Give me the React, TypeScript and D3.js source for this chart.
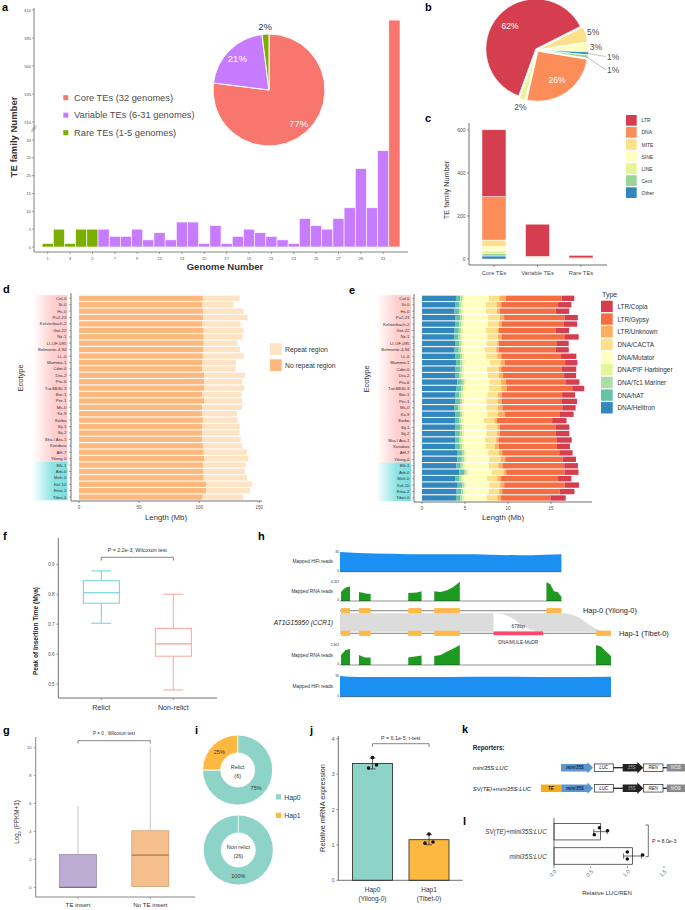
import React from 'react'
import * as d3 from 'd3'

const FONT = '"Liberation Sans", Arial, Helvetica, sans-serif'
const AX = '#4d4d4d'

// ---------- a: TE families by number of genomes ----------
const genomeCounts = [1, 2, 3, 4, 5, 6, 7, 8, 9, 10, 11, 12, 13, 14, 15, 16, 17, 18, 19, 20, 21, 22, 23, 24, 25, 26, 27, 28, 29, 30, 31, 32]
const familyCounts = [1, 5, 1, 5, 5, 5, 3, 3, 5, 2, 4, 2, 7, 7, 1, 6, 1, 3, 5, 4, 3, 2, 1, 8, 6, 5, 8, 11, 22, 11, 27, 601]
const genomeTicks = [1, 3, 5, 7, 9, 11, 13, 15, 17, 19, 21, 23, 25, 27, 29, 31]
const lowTicks = [0, 5, 10, 15, 20, 25, 30]
const highTicks = [510, 535, 560, 585, 610]
const teClassNames = ['Core TEs (32 genomes)', 'Variable TEs (6-31 genomes)', 'Rare TEs (1-5 genomes)']
const teClassPercent = [77, 21, 2]
const teClassColors = ['#F8766D', '#C77CFF', '#7CAE00']

// ---------- b: superfamily share ----------
const pieSuperfamilies = ['LTR', 'MITE', 'SINE', 'Other', 'Cent', 'DNA', 'LINE']
const pieSuperfamilyPercent = [62, 5, 3, 1, 1, 26, 2]

// ---------- c: superfamily per tier ----------
const tiers = ['Core TEs', 'Variable TEs', 'Rare TEs']
const superfamilies = ['LTR', 'DNA', 'MITE', 'SINE', 'LINE', 'Cent', 'Other']
const superfamilyColors = ['#D53E4F', '#FC8D59', '#FEE08B', '#FFFFBF', '#E6F598', '#99D594', '#3288BD']
const ltrCounts = [311, 150, 12]
const dnaCounts = [202, 3, 2]
const miteCounts = [31, 2, 1]
const sineCounts = [18, 2, 1]
const lineCounts = [13, 3, 1]
const centCounts = [12, 1, 0]
const otherCounts = [14, 1, 0]
const tierTicks = [0, 200, 400, 600]

// ---------- d / e: genomes ----------
const ecotypes = ['Col-0', 'St-0', 'Hs-0', 'Pu2-23', 'Kelsterbach-2', 'Got-22', 'Nz-1', 'LI-OF-095', 'Belmonte-4-94', 'LL-0', 'Mammo-1', 'Cdm-0', 'Dra-2', 'Pra-6', 'TueSB30-3', 'Bor-1', 'Per-1', 'Ms-0', 'Kz-9', 'Sorbo', 'Sij-1', 'Sij-2', 'Sha / Ara-1', 'Kondara', 'AH-7', 'Yilong-0', 'Elk-1', 'Arb-0', 'Meh-0', 'Kel-10', 'Etna-2', 'Tibet-0']
const nonRelictCount = 26
const noRepeatMb = [103.1, 102.3, 103.1, 103.4, 102.3, 103.7, 103.7, 103.7, 103.7, 103.1, 102.3, 102.3, 104.2, 104.2, 104.0, 102.6, 104.0, 102.3, 102.3, 103.1, 102.3, 102.3, 102.6, 103.1, 103.7, 104.2, 103.1, 103.4, 103.7, 105.9, 105.9, 102.9]
const genomeMb = [133.6, 128.6, 137.0, 140.3, 134.5, 137.0, 135.8, 132.0, 133.9, 137.0, 130.6, 130.3, 138.1, 135.8, 137.5, 135.0, 135.6, 135.6, 131.4, 132.0, 133.6, 133.6, 134.5, 135.6, 139.7, 141.1, 138.6, 138.1, 139.7, 144.2, 142.2, 136.4]
const lengthTicks = [0, 50, 100, 150]

const teTypes = ['LTR/Copia', 'LTR/Gypsy', 'LTR/Unknown', 'DNA/CACTA', 'DNA/Mutator', 'DNA/PIF Harbinger', 'DNA/Tc1 Mariner', 'DNA/hAT', 'DNA/Helitron']
const teTypeColors = ['#D53E4F', '#F46D43', '#FDAE61', '#FEE08B', '#FFFFBF', '#E6F598', '#ABDDA4', '#66C2A5', '#3288BD']
const helitronMb = [3.95, 3.84, 3.80, 3.91, 3.84, 3.80, 3.72, 3.84, 3.80, 3.91, 3.95, 3.91, 3.84, 4.11, 4.03, 3.84, 3.91, 3.72, 3.91, 3.84, 3.91, 3.90, 3.84, 3.91, 4.15, 4.11, 3.99, 4.34, 3.84, 4.15, 4.03, 3.95]
const hatMb = [0.50, 0.48, 0.50, 0.52, 0.50, 0.48, 0.50, 0.50, 0.48, 0.50, 0.52, 0.50, 0.50, 0.52, 0.52, 0.50, 0.50, 0.50, 0.50, 0.48, 0.50, 0.50, 0.48, 0.50, 0.52, 0.52, 0.50, 0.55, 0.50, 0.52, 0.52, 0.50]
const tc1Mb = [0.26, 0.25, 0.26, 0.26, 0.26, 0.25, 0.26, 0.26, 0.25, 0.26, 0.26, 0.26, 0.26, 0.27, 0.26, 0.26, 0.26, 0.25, 0.26, 0.25, 0.26, 0.26, 0.25, 0.26, 0.26, 0.26, 0.26, 0.27, 0.26, 0.26, 0.26, 0.26]
const pifMb = [0.24, 0.24, 0.24, 0.24, 0.25, 0.24, 0.24, 0.24, 0.24, 0.24, 0.24, 0.24, 0.24, 0.25, 0.24, 0.24, 0.24, 0.24, 0.24, 0.24, 0.24, 0.24, 0.24, 0.24, 0.24, 0.25, 0.24, 0.25, 0.24, 0.24, 0.24, 0.24]
const mutatorMb = [2.84, 2.60, 2.64, 2.76, 2.80, 2.64, 2.88, 2.68, 2.53, 2.57, 2.95, 2.64, 2.80, 2.72, 2.76, 2.76, 2.60, 2.80, 2.68, 2.37, 2.57, 2.58, 2.53, 2.49, 2.53, 2.68, 2.76, 2.68, 2.72, 2.64, 2.72, 2.57]
const cactaMb = [1.20, 1.28, 1.28, 1.36, 1.28, 1.36, 1.24, 1.24, 1.32, 1.28, 1.20, 1.36, 1.32, 1.32, 1.40, 1.24, 1.28, 1.32, 1.24, 1.24, 1.28, 1.28, 1.28, 1.09, 1.24, 1.32, 1.12, 1.43, 1.20, 1.28, 1.20, 1.24]
const ltrUnknownMb = [0.74, 0.54, 0.35, 0.50, 0.31, 0.19, 0.43, 0.16, 0.27, 0.47, 0.50, 0.31, 0.47, 0.54, 0.66, 0.43, 0.47, 0.54, 0.78, 0.31, 0.31, 0.31, 0.27, 0.43, 0.39, 0.54, 0.50, 0.27, 0.43, 0.47, 0.35, 0.43]
const gypsyMb = [6.51, 6.59, 6.47, 7.02, 7.25, 6.55, 7.36, 6.78, 6.67, 6.94, 7.02, 7.05, 7.09, 7.02, 7.60, 7.02, 7.02, 6.94, 6.43, 6.40, 6.47, 6.47, 6.78, 6.78, 6.63, 6.67, 7.17, 6.78, 6.63, 7.02, 6.67, 5.74]
const copiaMb = [1.47, 1.55, 1.59, 1.55, 1.55, 1.59, 1.59, 1.36, 1.51, 1.78, 1.43, 1.67, 1.40, 1.55, 1.40, 1.51, 1.74, 1.55, 1.59, 1.67, 1.59, 1.59, 1.74, 1.51, 1.55, 1.55, 1.59, 1.63, 1.55, 1.67, 1.74, 1.78]
const typeTicks = [0, 5, 10, 15]

// ---------- f: insertion time ----------
const insertionGroups = ['Relict', 'Non-relict']
const insertionMin = [0.703, 0.48]
const insertionQ1 = [0.77, 0.593]
const insertionMedian = [0.805, 0.634]
const insertionQ3 = [0.845, 0.686]
const insertionMax = [0.878, 0.8]
const insertionTicks = [0.5, 0.6, 0.7, 0.8, 0.9]

// ---------- g: expression ----------
const exprGroups = ['TE insert', 'No TE insert']
const exprQ1 = [0, 0.05]
const exprMedian = [0, 2.3]
const exprQ3 = [2.35, 4.05]
const exprMax = [5.8, 10.1]
const exprTicks = [0, 2, 4, 6, 8, 10]

// ---------- h: CCR1 locus ----------
const hap0Length = 3026
const hap1Length = 3704
const hap0Exons = [[14, 137], [259, 419], [933, 1115], [1288, 1638], [2821, 3026]]
const hap1Exons = [[14, 137], [259, 419], [933, 1115], [1288, 1638], [3499, 3704]]
const teInsertBp = [2098, 2776]
const hifiHap0Pos = [0, 250, 705, 1160, 1615, 2070, 2434, 2798, 3026]
const hifiHap0Depth = [30, 28.5, 27.5, 26.5, 26.5, 26, 25, 26, 26.5]
const hifiHap1Pos = [0, 250, 700, 1200, 1800, 2400, 3000, 3704]
const hifiHap1Depth = [30, 28.5, 28.5, 28.5, 29, 29, 28.5, 29]
const rnaHap0Max = 4267
const rnaHap0 = [[2000, 2700, 3070, 3200], [2000, 1830, 1620, 1620], [1790, 1830, 1900, 2130], [2130, 2000, 2350, 3070, 4267], [4140, 3750, 2130, 2000, 940]]
const rnaHap1Max = 2661
const rnaHap1 = [[1330, 2000, 2130], [1330, 985, 985], [985, 1120, 1250], [1200, 1330, 1780, 2200, 2661], [2661, 2450, 1780, 1200]]

// ---------- i: haplotype share ----------
const hapNames = ['Hap0', 'Hap1']
const hapColors = ['#8DD3C7', '#FDB93F']
const relictHapPercent = [75, 25]
const nonRelictHapPercent = [100, 0]

// ---------- j: qPCR ----------
const hapEcotypes = ['(Yilong-0)', '(Tibet-0)']
const expressionReps = [[3.47, 3.17, 3.26], [1.31, 1.05, 1.08]]
const expressionTicks = [0, 1, 2, 3, 4]

// ---------- l: LUC/REN ----------
const reporterNames = ['SV(TE)+mini35S:LUC', 'mini35S:LUC']
const lucRenReps = [[0.55, 0.62, 0.73], [1.0, 1.0, 1.21]]
const lucTicks = [0, 0.5, 1, 1.5]

const Letter = ({ x, y, t }: { x: number; y: number; t: string }) => (
  <text x={x} y={y} fontSize={11} fontWeight="bold" fill="#000">{t}</text>
)

const VText = ({ x, y, children, ...rest }: any) => (
  <text transform={`translate(${x},${y}) rotate(-90)`} textAnchor="middle" {...rest}>{children}</text>
)

function PanelA() {
  const x = d3.scaleBand<number>().domain(genomeCounts).range([42.1, 400])
  const yLow = d3.scaleLinear().domain([0, 30]).range([247, 140])
  const yHigh = d3.scaleLinear().domain([510, 610]).range([122, 10])
  const y = (v: number) => (v <= 30 ? yLow(v) : yHigh(v))
  const classOf = (g: number) => (g === 32 ? 0 : g >= 6 ? 1 : 2)
  const cx = 269, cy = 90, r = 56
  const slices = d3.pie<number>().sort(null)(teClassPercent)
  const arc = d3.arc<d3.PieArcDatum<number>>().innerRadius(0).outerRadius(r)
  const inLab = d3.arc<d3.PieArcDatum<number>>().innerRadius(r * 0.8).outerRadius(r * 0.8)
  const outLab = d3.arc<d3.PieArcDatum<number>>().innerRadius(r * 1.13).outerRadius(r * 1.13)
  return (
    <g>
      <Letter x={2} y={11} t="a" />
      {genomeCounts.map((g, i) => (
        <rect key={g} x={x(g)} y={y(familyCounts[i])} width={x.bandwidth()} height={yLow(0) - y(familyCounts[i])}
          fill={teClassColors[classOf(g)]} stroke="#fff" strokeWidth={0.6} />
      ))}
      <line x1={34} x2={34} y1={8} y2={252} stroke={AX} strokeWidth={0.7} />
      <line x1={34} x2={408} y1={252} y2={252} stroke={AX} strokeWidth={0.7} />
      <path d="M31.5,130 L36,125.5 M31.5,132 L36,127.5" stroke={AX} strokeWidth={0.6} />
      {lowTicks.map(t => (
        <g key={'l' + t}>
          <line x1={32} x2={34} y1={yLow(t)} y2={yLow(t)} stroke={AX} strokeWidth={0.5} />
          <text x={31} y={yLow(t)} fontSize={4} fill={AX} textAnchor="end" dominantBaseline="central">{t}</text>
        </g>
      ))}
      {highTicks.map(t => (
        <g key={'h' + t}>
          <line x1={32} x2={34} y1={yHigh(t)} y2={yHigh(t)} stroke={AX} strokeWidth={0.5} />
          <text x={31} y={yHigh(t)} fontSize={4} fill={AX} textAnchor="end" dominantBaseline="central">{t}</text>
        </g>
      ))}
      {genomeTicks.map(t => (
        <g key={'x' + t}>
          <line x1={x(t)! + x.bandwidth() / 2} x2={x(t)! + x.bandwidth() / 2} y1={252} y2={254} stroke={AX} strokeWidth={0.5} />
          <text x={x(t)! + x.bandwidth() / 2} y={259.5} fontSize={4} fill={AX} textAnchor="middle">{t}</text>
        </g>
      ))}
      <text x={225} y={270} fontSize={9.5} fontWeight="bold" fill="#333" textAnchor="middle">Genome Number</text>
      <VText x={17} y={137} fontSize={9.5} fontWeight="bold" fill="#333">TE family Number</VText>
      {teClassNames.map((n, i) => (
        <g key={n}>
          <rect x={63.3} y={95.2 + i * 17.5} width={5} height={5} fill={teClassColors[i]} />
          <text x={74} y={97.7 + i * 17.5} fontSize={9.3} fill={AX} dominantBaseline="central">{n}</text>
        </g>
      ))}
      <g transform={`translate(${cx},${cy})`}>
        {slices.map((s, i) => (
          <path key={i} d={arc(s)!} fill={teClassColors[i]} stroke="#fff" strokeWidth={1} />
        ))}
        {slices.map((s, i) => {
          const p = i < 2 ? inLab.centroid(s) : outLab.centroid(s)
          return (
            <text key={'t' + i} x={p[0]} y={p[1]} fontSize={9.5} fill={i < 2 ? '#fff' : '#333'} textAnchor="middle" dominantBaseline="central">
              {teClassPercent[i]}%
            </text>
          )
        })}
      </g>
    </g>
  )
}

function PanelB() {
  const cx = 537, cy = 50, r = 50
  const deg = Math.PI / 180
  const slices = d3.pie<number>().sort(null).startAngle(200 * deg).endAngle(560 * deg)(pieSuperfamilyPercent)
  const arc = d3.arc<d3.PieArcDatum<number>>().innerRadius(0).outerRadius(r)
  const inLab = d3.arc<d3.PieArcDatum<number>>().innerRadius(r * 0.72).outerRadius(r * 0.72)
  const outLab = d3.arc<d3.PieArcDatum<number>>().innerRadius(r * 1.18).outerRadius(r * 1.18)
  const edge = d3.arc<d3.PieArcDatum<number>>().innerRadius(r * 0.98).outerRadius(r * 0.98)
  const colorOf = (n: string) => superfamilyColors[superfamilies.indexOf(n)]
  let leader = 0
  return (
    <g>
      <Letter x={425} y={11} t="b" />
      <g transform={`translate(${cx},${cy})`}>
        {slices.map((s, i) => {
          const mid = (s.startAngle + s.endAngle) / 2
          const off = 1.6
          return (
            <path key={i} d={arc(s)!} transform={`translate(${Math.sin(mid) * off},${-Math.cos(mid) * off})`}
              fill={colorOf(pieSuperfamilies[i])} stroke="#fff" strokeWidth={0.8} />
          )
        })}
        {slices.map((s, i) => {
          const v = pieSuperfamilyPercent[i]
          if (v >= 20) {
            const p = inLab.centroid(s)
            return <text key={'t' + i} x={p[0]} y={p[1]} fontSize={8.5} fill="#fff" textAnchor="middle" dominantBaseline="central">{v}%</text>
          }
          if (v >= 2) {
            const p = outLab.centroid(s)
            return <text key={'t' + i} x={p[0]} y={p[1]} fontSize={8.5} fill={AX} textAnchor="middle" dominantBaseline="central">{v}%</text>
          }
          const p = edge.centroid(s)
          const ly = 6.5 + leader * 13.3
          leader += 1
          return (
            <g key={'t' + i}>
              <polyline points={`${p[0]},${p[1]} ${r + 19},${ly}`} fill="none" stroke="#999" strokeWidth={0.6} />
              <text x={r + 20} y={ly} fontSize={8.5} fill={AX} dominantBaseline="central">{v}%</text>
            </g>
          )
        })}
      </g>
    </g>
  )
}

function PanelC() {
  const x = d3.scalePoint<string>().domain(tiers).range([494, 581])
  const y = d3.scaleLinear().domain([0, 600]).range([259, 130])
  const perType: Record<string, number[]> = {
    LTR: ltrCounts, DNA: dnaCounts, MITE: miteCounts, SINE: sineCounts, LINE: lineCounts, Cent: centCounts, Other: otherCounts,
  }
  const rows = tiers.map((t, i) => {
    const o: any = { tier: t }
    superfamilies.forEach(s => { o[s] = perType[s][i] })
    return o
  })
  const keys = [...superfamilies].reverse()
  const series = d3.stack<any>().keys(keys)(rows)
  const bw = 24
  return (
    <g>
      <Letter x={425} y={122} t="c" />
      {series.map(sr => (
        <g key={sr.key} fill={superfamilyColors[superfamilies.indexOf(sr.key)]}>
          {sr.map((d, i) => (
            d[1] > d[0] ? (
              <rect key={i} x={x(tiers[i])! - bw / 2} y={y(d[1])} width={bw} height={y(d[0]) - y(d[1])} stroke="#fff" strokeWidth={0.5} />
            ) : null
          ))}
        </g>
      ))}
      <line x1={469} x2={469} y1={123} y2={265} stroke="#333" strokeWidth={0.7} />
      <line x1={469} x2={607} y1={265} y2={265} stroke="#333" strokeWidth={0.7} />
      {tierTicks.map(t => (
        <g key={t}>
          <line x1={467} x2={469} y1={y(t)} y2={y(t)} stroke="#333" strokeWidth={0.5} />
          <text x={465.5} y={y(t)} fontSize={5} fill={AX} textAnchor="end" dominantBaseline="central">{t}</text>
        </g>
      ))}
      {tiers.map(t => (
        <g key={t}>
          <line x1={x(t)} x2={x(t)} y1={265} y2={267} stroke="#333" strokeWidth={0.5} />
          <text x={x(t)} y={275} fontSize={5.8} fill={AX} textAnchor="middle">{t}</text>
        </g>
      ))}
      <VText x={449} y={190} fontSize={7.3} fill="#333">TE family Number</VText>
      {superfamilies.map((s, i) => (
        <g key={s}>
          <rect x={626} y={115 + i * 12.05} width={10.7} height={10.7} fill={superfamilyColors[i]} />
          <text x={641.5} y={120.4 + i * 12.05} fontSize={5} fill="#333" dominantBaseline="central">{s}</text>
        </g>
      ))}
    </g>
  )
}

function EcotypeBands({ yb, x0, x1 }: { yb: d3.ScaleBand<string>; x0: number; x1: number }) {
  const gap = yb.step() - yb.bandwidth()
  const top = yb(ecotypes[0])! - gap / 2
  const mid = yb(ecotypes[nonRelictCount - 1])! + yb.bandwidth() + gap / 2
  const bot = yb(ecotypes[ecotypes.length - 1])! + yb.bandwidth() + gap / 2
  return (
    <g>
      <rect x={x0} y={top} width={x1 - x0} height={mid - top} fill="url(#pinkFade)" />
      <rect x={x0} y={mid} width={x1 - x0} height={bot - mid} fill="url(#cyanFade)" />
    </g>
  )
}

function PanelD() {
  const yb = d3.scaleBand<string>().domain(ecotypes).range([295.1, 500.3]).paddingInner(0.17).paddingOuter(0.085)
  const x = d3.scaleLinear().domain([0, 150]).range([79, 259.3])
  return (
    <g>
      <Letter x={3} y={293} t="d" />
      <EcotypeBands yb={yb} x0={32} x1={67.5} />
      {ecotypes.map((e, i) => (
        <g key={e}>
          <rect x={x(0)} y={yb(e)} width={x(noRepeatMb[i]) - x(0)} height={yb.bandwidth()} fill="#FDB97D" />
          <rect x={x(noRepeatMb[i])} y={yb(e)} width={x(genomeMb[i]) - x(noRepeatMb[i])} height={yb.bandwidth()} fill="#FEE3C4" />
          <line x1={69} x2={71} y1={yb(e)! + yb.bandwidth() / 2} y2={yb(e)! + yb.bandwidth() / 2} stroke="#333" strokeWidth={0.4} />
          <text x={66.3} y={yb(e)! + yb.bandwidth() / 2} fontSize={4.3} fill="#333" textAnchor="end" dominantBaseline="central">{e}</text>
        </g>
      ))}
      <line x1={71} x2={71} y1={293} y2={501} stroke="#333" strokeWidth={0.7} />
      <line x1={71} x2={262} y1={501} y2={501} stroke="#333" strokeWidth={0.7} />
      {lengthTicks.map(t => (
        <g key={t}>
          <line x1={x(t)} x2={x(t)} y1={501} y2={503} stroke="#333" strokeWidth={0.5} />
          <text x={x(t)} y={509} fontSize={4.5} fill={AX} textAnchor="middle">{t}</text>
        </g>
      ))}
      <text x={166} y={520} fontSize={7.8} fill="#333" textAnchor="middle">Length (Mb)</text>
      <VText x={23} y={378} fontSize={7.5} fill="#333">Ecotype</VText>
      {['Repeat region', 'No repeat region'].map((n, i) => (
        <g key={n}>
          <rect x={270} y={343.3 + i * 16} width={11.7} height={11.7} fill={i === 0 ? '#FEE3C4' : '#FDB97D'} />
          <text x={285} y={349.2 + i * 16} fontSize={6.8} fill="#333" dominantBaseline="central">{n}</text>
        </g>
      ))}
    </g>
  )
}

function PanelE() {
  const yb = d3.scaleBand<string>().domain(ecotypes).range([295.1, 501.2]).paddingInner(0.17).paddingOuter(0.085)
  const x = d3.scaleLinear().domain([0, 15]).range([422, 551])
  const perType: Record<string, number[]> = {
    'LTR/Copia': copiaMb, 'LTR/Gypsy': gypsyMb, 'LTR/Unknown': ltrUnknownMb, 'DNA/CACTA': cactaMb, 'DNA/Mutator': mutatorMb,
    'DNA/PIF Harbinger': pifMb, 'DNA/Tc1 Mariner': tc1Mb, 'DNA/hAT': hatMb, 'DNA/Helitron': helitronMb,
  }
  const rows = ecotypes.map((e, i) => {
    const o: any = { ecotype: e }
    teTypes.forEach(t => { o[t] = perType[t][i] })
    return o
  })
  const series = d3.stack<any>().keys([...teTypes].reverse())(rows)
  return (
    <g>
      <Letter x={349} y={294} t="e" />
      <EcotypeBands yb={yb} x0={376} x1={411} />
      {series.map(sr => (
        <g key={sr.key} fill={teTypeColors[teTypes.indexOf(sr.key)]}>
          {sr.map((d, i) => (
            <rect key={i} x={x(d[0])} y={yb(ecotypes[i])} width={x(d[1]) - x(d[0])} height={yb.bandwidth()} />
          ))}
        </g>
      ))}
      {ecotypes.map(e => (
        <g key={e}>
          <line x1={412} x2={414} y1={yb(e)! + yb.bandwidth() / 2} y2={yb(e)! + yb.bandwidth() / 2} stroke="#333" strokeWidth={0.4} />
          <text x={409.5} y={yb(e)! + yb.bandwidth() / 2} fontSize={4.3} fill="#333" textAnchor="end" dominantBaseline="central">{e}</text>
        </g>
      ))}
      <line x1={414} x2={414} y1={294} y2={502} stroke="#333" strokeWidth={0.7} />
      <line x1={414} x2={592} y1={502} y2={502} stroke="#333" strokeWidth={0.7} />
      {typeTicks.map(t => (
        <g key={t}>
          <line x1={x(t)} x2={x(t)} y1={502} y2={504} stroke="#333" strokeWidth={0.5} />
          <text x={x(t)} y={510} fontSize={4.5} fill={AX} textAnchor="middle">{t}</text>
        </g>
      ))}
      <text x={503} y={520} fontSize={7.8} fill="#333" textAnchor="middle">Length (Mb)</text>
      <VText x={369} y={379} fontSize={7.5} fill="#333">Ecotype</VText>
      <text x={602} y={297} fontSize={7} fill="#333">Type</text>
      {teTypes.map((t, i) => (
        <g key={t}>
          <rect x={601} y={300.7 + i * 12.67} width={11.7} height={11.4} fill={teTypeColors[i]} />
          <text x={617.5} y={306.5 + i * 12.67} fontSize={6.4} fill="#333" dominantBaseline="central">{t}</text>
        </g>
      ))}
    </g>
  )
}

function PanelF() {
  const x = d3.scalePoint<string>().domain(insertionGroups).range([101.3, 173.3])
  const y = d3.scaleLinear().domain([0.5, 0.9]).range([684, 564.3])
  const colors = ['#5ECDD1', '#F89A92']
  const bw = 36, cap = 20
  return (
    <g>
      <Letter x={3} y={540} t="f" />
      {insertionGroups.map((g, i) => {
        const cx = x(g)!
        return (
          <g key={g} stroke={colors[i]} strokeWidth={0.9} fill="none">
            <line x1={cx} x2={cx} y1={y(insertionMax[i])} y2={y(insertionQ3[i])} />
            <line x1={cx} x2={cx} y1={y(insertionQ1[i])} y2={y(insertionMin[i])} />
            <line x1={cx - cap / 2} x2={cx + cap / 2} y1={y(insertionMax[i])} y2={y(insertionMax[i])} />
            <line x1={cx - cap / 2} x2={cx + cap / 2} y1={y(insertionMin[i])} y2={y(insertionMin[i])} />
            <rect x={cx - bw / 2} y={y(insertionQ3[i])} width={bw} height={y(insertionQ1[i]) - y(insertionQ3[i])} fill="#fff" />
            <line x1={cx - bw / 2} x2={cx + bw / 2} y1={y(insertionMedian[i])} y2={y(insertionMedian[i])} strokeWidth={1.2} />
          </g>
        )
      })}
      <line x1={58.3} x2={58.3} y1={538} y2={698} stroke="#333" strokeWidth={0.7} />
      <line x1={58.3} x2={217} y1={698} y2={698} stroke="#333" strokeWidth={0.7} />
      {insertionTicks.map(t => (
        <g key={t}>
          <line x1={56.3} x2={58.3} y1={y(t)} y2={y(t)} stroke="#333" strokeWidth={0.5} />
          <text x={54.5} y={y(t)} fontSize={4.5} fill={AX} textAnchor="end" dominantBaseline="central">{t.toFixed(1)}</text>
        </g>
      ))}
      {insertionGroups.map(g => (
        <g key={g}>
          <line x1={x(g)} x2={x(g)} y1={698} y2={700} stroke="#333" strokeWidth={0.5} />
          <text x={x(g)} y={709.5} fontSize={7.2} fill="#333" textAnchor="middle">{g}</text>
        </g>
      ))}
      <path d={`M${x('Relict')},560.7 V557.3 H${x('Non-relict')} V560.7`} fill="none" stroke="#555" strokeWidth={0.7} />
      <text x={137.3} y={552} fontSize={5.3} fill="#333" textAnchor="middle">P = 2.2e-3, Wilcoxon test</text>
      <VText x={38} y={631} fontSize={6.5} fontWeight="bold" fill="#222">Peak of Insertion Time  (Mya)</VText>
    </g>
  )
}

function PanelG() {
  const x = d3.scalePoint<string>().domain(exprGroups).range([78, 150.3])
  const y = d3.scaleLinear().domain([0, 10]).range([887.3, 747.7])
  const fills = ['#BDACD3', '#F6BF8E']
  const strokes = ['#9484a8', '#c99a6c']
  const meds = ['#7d6b8e', '#a57b54']
  const bw = 37
  return (
    <g>
      <Letter x={3} y={734} t="g" />
      {exprGroups.map((g, i) => {
        const cx = x(g)!
        return (
          <g key={g}>
            <line x1={cx} x2={cx} y1={y(exprMax[i])} y2={y(exprQ3[i])} stroke="#c4c4c4" strokeWidth={1} />
            <rect x={cx - bw / 2} y={y(exprQ3[i])} width={bw} height={y(exprQ1[i]) - y(exprQ3[i])} fill={fills[i]} stroke={strokes[i]} strokeWidth={0.7} />
            <line x1={cx - bw / 2} x2={cx + bw / 2} y1={y(exprMedian[i])} y2={y(exprMedian[i])} stroke={meds[i]} strokeWidth={1.2} />
          </g>
        )
      })}
      <line x1={35.7} x2={35.7} y1={737} y2={897} stroke="#555" strokeWidth={0.7} />
      <line x1={35.7} x2={195} y1={897} y2={897} stroke="#555" strokeWidth={0.7} />
      {exprTicks.map(t => (
        <g key={t}>
          <line x1={33.7} x2={35.7} y1={y(t)} y2={y(t)} stroke="#555" strokeWidth={0.5} />
          <text x={31.5} y={y(t)} fontSize={4} fill={AX} textAnchor="end" dominantBaseline="central">{t}</text>
        </g>
      ))}
      {exprGroups.map(g => (
        <g key={g}>
          <line x1={x(g)} x2={x(g)} y1={897} y2={899} stroke="#555" strokeWidth={0.5} />
          <text x={x(g)} y={906.5} fontSize={6.2} fill="#333" textAnchor="middle">{g}</text>
        </g>
      ))}
      <path d={`M${x('TE insert')},743.5 V740.7 H${x('No TE insert')} V743.5`} fill="none" stroke="#555" strokeWidth={0.7} />
      <text x={114} y={735} fontSize={4.6} fill="#333" textAnchor="middle">P = 0 , Wilcoxon test</text>
      <text transform="translate(19,822) rotate(-90)" textAnchor="middle" fontSize={6.3} fill="#333">
        <tspan>Log</tspan><tspan fontSize={4.2} dy={1.5}>2</tspan><tspan dy={-1.5}> (FPKM+1)</tspan>
      </text>
    </g>
  )
}

function PanelH() {
  const x = d3.scaleLinear().domain([0, hap1Length]).range([340, 611])
  const hifi = (pos: number[], depth: number[], top: number, bot: number) => {
    const y = d3.scaleLinear().domain([0, 30]).range([bot, top])
    return d3.area<number>().x((_, i) => x(pos[i])).y0(bot).y1(d => y(d)).curve(d3.curveMonotoneX)(depth)!
  }
  const rna = (exons: number[][], cov: number[][], max: number, top: number, bot: number) => {
    const y = d3.scaleLinear().domain([0, max]).range([bot, top])
    return exons.map((ex, k) => {
      const step = d3.scaleLinear().domain([0, cov[k].length - 1]).range(ex)
      return d3.area<number>().x((_, i) => x(step(i))).y0(bot).y1(d => y(d))(cov[k])!
    })
  }
  const y0 = 610.7, y1 = 633.3
  const r0 = 613.3, r1 = 631.7
  const ts = x(teInsertBp[0]), te = x(teInsertBp[1])
  const e0 = x(hap0Length), e1 = x(hap1Length)
  const ribbon =
    `M${x(0)},${r0} H${ts} V${r1} H${x(0)} Z ` +
    `M${ts},${r0} H${e0} C${(e0 + e1) / 2},${r0} ${(e0 + e1) / 2},${r1} ${e1},${r1} H${te} C${(ts + te) / 2},${r1} ${(ts + te) / 2},${r0} ${ts},${r0} Z`
  const trackLabel = (t: string, yy: number) => (
    <text x={333} y={yy} fontSize={4.8} fill="#333" textAnchor="end" dominantBaseline="central">{t}</text>
  )
  const scaleLab = (top: string, yt: number, yb: number) => (
    <g fontSize={3.3} fill="#333" textAnchor="end">
      <text x={339} y={yt + 1.2}>{top}</text>
      <text x={339} y={yb}>0</text>
    </g>
  )
  return (
    <g>
      <Letter x={258} y={540} t="h" />
      <path d={hifi(hifiHap0Pos, hifiHap0Depth, 552, 571.7)} fill="#1C8FF2" />
      <line x1={x(0)} x2={e0} y1={571.7} y2={571.7} stroke="#222" strokeWidth={0.5} />
      {trackLabel('Mapped HiFi reads', 561.5)}
      {scaleLab('30', 552, 571.7)}
      {rna(hap0Exons, rnaHap0, rnaHap0Max, 581.7, 601).map((d, i) => <path key={i} d={d} fill="#1E9A22" />)}
      <line x1={x(0)} x2={e0} y1={601} y2={601} stroke="#222" strokeWidth={0.5} />
      {trackLabel('Mapped RNA reads', 591.5)}
      {scaleLab('4,267', 581.7, 601)}

      <path d={ribbon} fill="#DCDCDC" />
      <line x1={x(0)} x2={e0} y1={y0} y2={y0} stroke="#999" strokeWidth={1.2} />
      <line x1={x(0)} x2={e1} y1={y1} y2={y1} stroke="#999" strokeWidth={1.2} />
      {hap0Exons.map((ex, i) => (
        <rect key={'a' + i} x={x(ex[0])} y={y0 - 2.6} width={x(ex[1]) - x(ex[0])} height={5.2} fill="#FDB94A" />
      ))}
      {hap1Exons.map((ex, i) => (
        <rect key={'b' + i} x={x(ex[0])} y={y1 - 2.6} width={x(ex[1]) - x(ex[0])} height={5.2} fill="#FDB94A" />
      ))}
      <rect x={ts} y={y1 - 1.9} width={te - ts} height={3.8} fill="#FF4869" />
      <text x={(ts + te) / 2} y={628} fontSize={4.8} fill="#333" textAnchor="middle">{teInsertBp[1] - teInsertBp[0]}bp</text>
      <text x={(ts + te) / 2} y={644} fontSize={4.8} fill="#333" textAnchor="middle">DNA/MULE-MuDR</text>
      <text x={333} y={622} fontSize={6.6} fontStyle="italic" fill="#222" textAnchor="end" dominantBaseline="central">AT1G15950 (CCR1)</text>
      <text x={583} y={610} fontSize={7.4} fill="#222" dominantBaseline="central">Hap-0 (Yilong-0)</text>
      <text x={619} y={633.5} fontSize={7.4} fill="#222" dominantBaseline="central">Hap-1 (Tibet-0)</text>

      {rna(hap1Exons, rnaHap1, rnaHap1Max, 645, 665).map((d, i) => <path key={i} d={d} fill="#1E9A22" />)}
      <line x1={x(0)} x2={e1} y1={665} y2={665} stroke="#222" strokeWidth={0.5} />
      {trackLabel('Mapped RNA reads', 655)}
      {scaleLab('2,661', 645, 665)}
      <path d={hifi(hifiHap1Pos, hifiHap1Depth, 676, 696.7)} fill="#1C8FF2" />
      <line x1={x(0)} x2={e1} y1={696.7} y2={696.7} stroke="#222" strokeWidth={0.5} />
      {trackLabel('Mapped HiFi reads', 686.5)}
      {scaleLab('30', 676, 696.7)}
    </g>
  )
}

function Donut({ cx, cy, values, title, count }: { cx: number; cy: number; values: number[]; title: string; count: number }) {
  const slices = d3.pie<number>().sort(null)(values)
  const arc = d3.arc<d3.PieArcDatum<number>>().innerRadius(17).outerRadius(35)
  return (
    <g transform={`translate(${cx},${cy})`}>
      {slices.map((s, i) => (s.value > 0 ? <path key={i} d={arc(s)!} fill={hapColors[i]} stroke="#fff" strokeWidth={0.8} /> : null))}
      {values.length && values[1] === 0 ? <line x1={0} x2={0} y1={-35} y2={-17} stroke="#fff" strokeWidth={0.8} /> : null}
      {slices.map((s, i) => {
        if (s.value <= 0) return null
        const p = arc.centroid(s)
        return <text key={'t' + i} x={p[0]} y={p[1]} fontSize={5.5} fill="#333" textAnchor="middle" dominantBaseline="central">{s.value}%</text>
      })}
      <text x={0} y={-3} fontSize={5.5} fill="#333" textAnchor="middle" dominantBaseline="central">{title}</text>
      <text x={0} y={5.5} fontSize={5.5} fill="#333" textAnchor="middle" dominantBaseline="central">({count})</text>
    </g>
  )
}

function PanelI() {
  return (
    <g>
      <Letter x={195} y={734} t="i" />
      <Donut cx={237.7} cy={770} values={relictHapPercent} title="Relict" count={ecotypes.length - nonRelictCount} />
      <Donut cx={238.3} cy={850} values={nonRelictHapPercent} title="Non relict" count={nonRelictCount} />
      {hapNames.map((h, i) => (
        <g key={h}>
          <rect x={276} y={794.3 + i * 18.4} width={5.2} height={5.2} fill={hapColors[i]} />
          <text x={284.3} y={797 + i * 18.4} fontSize={6.8} fill="#333" dominantBaseline="central">{h}</text>
        </g>
      ))}
    </g>
  )
}

function PanelJ() {
  const x = d3.scalePoint<string>().domain(hapNames).range([372.5, 429])
  const y = d3.scaleLinear().domain([0, 4]).range([880.3, 738.7])
  const bw = 40
  const jitter = [0, -4, 4]
  return (
    <g>
      <Letter x={310} y={734} t="j" />
      {hapNames.map((h, i) => {
        const m = d3.mean(expressionReps[i])!
        const sd = d3.deviation(expressionReps[i])!
        const cx = x(h)!
        return (
          <g key={h}>
            <rect x={cx - bw / 2} y={y(m)} width={bw} height={y(0) - y(m)} fill={hapColors[i]} stroke="#222" strokeWidth={0.8} />
            <line x1={cx} x2={cx} y1={y(m + sd)} y2={y(m - sd)} stroke="#222" strokeWidth={0.7} />
            <line x1={cx - 3} x2={cx + 3} y1={y(m + sd)} y2={y(m + sd)} stroke="#222" strokeWidth={0.7} />
            <line x1={cx - 3} x2={cx + 3} y1={y(m - sd)} y2={y(m - sd)} stroke="#222" strokeWidth={0.7} />
            {expressionReps[i].map((v, k) => <circle key={k} cx={cx + jitter[k]} cy={y(v)} r={1.8} fill="#111" />)}
            <text x={cx} y={891.7} fontSize={6.5} fill="#333" textAnchor="middle">{h}</text>
            <text x={cx} y={901.3} fontSize={6.5} fill="#333" textAnchor="middle">{hapEcotypes[i]}</text>
          </g>
        )
      })}
      <line x1={338.3} x2={338.3} y1={736} y2={880.3} stroke="#333" strokeWidth={0.7} />
      <line x1={338.3} x2={462.7} y1={880.3} y2={880.3} stroke="#333" strokeWidth={0.7} />
      {expressionTicks.map(t => (
        <g key={t}>
          <line x1={336.3} x2={338.3} y1={y(t)} y2={y(t)} stroke="#333" strokeWidth={0.5} />
          <text x={334.5} y={y(t)} fontSize={5} fill={AX} textAnchor="end" dominantBaseline="central">{t}</text>
        </g>
      ))}
      <path d={`M${x('Hap0')},747 V743.7 H${x('Hap1')} V747`} fill="none" stroke="#555" strokeWidth={0.7} />
      <text x={400.7} y={739.5} fontSize={5.3} fill="#333" textAnchor="middle">P = 6.1e-5, t-test</text>
      <VText x={325} y={808} fontSize={7.4} fill="#333">Relative mRNA expression</VText>
    </g>
  )
}

function arrowPts(x0: number, x1: number, head: number, yc: number, h: number, hh: number) {
  const b = x1 - head
  return `${x0},${yc - h / 2} ${b},${yc - h / 2} ${b},${yc - hh / 2} ${x1},${yc} ${b},${yc + hh / 2} ${b},${yc + h / 2} ${x0},${yc + h / 2}`
}

function Construct({ yc, withTE }: { yc: number; withTE: boolean }) {
  const h = 7.5, hh = 11.5
  const lab = (x: number, t: string, fill: string, bold = false) => (
    <text x={x} y={yc + 0.2} fontSize={4.6} fontStyle="italic" fontWeight={bold ? 'bold' : 'normal'} fill={fill} textAnchor="middle" dominantBaseline="central">{t}</text>
  )
  return (
    <g>
      <line x1={613} x2={623} y1={yc} y2={yc} stroke="#222" strokeWidth={1.3} />
      <line x1={663} x2={667} y1={yc} y2={yc} stroke="#222" strokeWidth={1.3} />
      {withTE ? <rect x={541} y={yc - h / 2} width={21} height={h} fill="#F2AE1C" /> : null}
      {withTE ? lab(551, 'TE', '#222', true) : null}
      <polygon points={arrowPts(withTE ? 561.7 : 561, 593, 5.5, yc, h, hh)} fill="#5A97D2" />
      {lab(575, 'mini35S', '#1d2b44', true)}
      <rect x={594.3} y={yc - h / 2} width={19} height={h} fill="#fff" stroke="#222" strokeWidth={0.7} />
      {lab(603.8, 'LUC', '#222')}
      <polygon points={arrowPts(622.7, 643.3, 6, yc, h, hh)} fill="#222" />
      {lab(631.5, '35S', '#aaa')}
      <rect x={643.5} y={yc - h / 2} width={19.5} height={h} fill="#fff" stroke="#222" strokeWidth={0.7} />
      {lab(653.3, 'REN', '#222')}
      <rect x={666.7} y={yc - h / 2} width={18.3} height={h} fill="#8a8a8a" />
      {lab(675.8, 'NOS', '#fff')}
    </g>
  )
}

function PanelK() {
  return (
    <g>
      <Letter x={462} y={733} t="k" />
      <text x={472.7} y={749.5} fontSize={6.3} fontWeight="bold" fill="#222">Reporters:</text>
      <text x={472.7} y={769.5} fontSize={6} fontStyle="italic" fill="#222">{reporterNames[1]}</text>
      <text x={472.7} y={790.5} fontSize={6} fontStyle="italic" fill="#222">{reporterNames[0]}</text>
      <Construct yc={767.7} withTE={false} />
      <Construct yc={788.3} withTE={true} />
    </g>
  )
}

function PanelL() {
  const x = d3.scaleLinear().domain([0, 1.5]).range([554, 664])
  const y = d3.scalePoint<string>().domain(reporterNames).range([831.7, 856])
  const bh = 16.5
  const jitter = [[3, -4, -1], [-4, 3, -1]]
  return (
    <g>
      <Letter x={463} y={825} t="l" />
      {reporterNames.map((n, i) => {
        const m = d3.mean(lucRenReps[i])!
        const sd = d3.deviation(lucRenReps[i])!
        const cy = y(n)!
        return (
          <g key={n}>
            <rect x={x(0)} y={cy - bh / 2} width={x(m) - x(0)} height={bh} fill="#fff" stroke="#222" strokeWidth={0.7} />
            <line x1={x(m - sd)} x2={x(m + sd)} y1={cy} y2={cy} stroke="#222" strokeWidth={0.7} />
            <line x1={x(m - sd)} x2={x(m - sd)} y1={cy - 2.5} y2={cy + 2.5} stroke="#222" strokeWidth={0.7} />
            <line x1={x(m + sd)} x2={x(m + sd)} y1={cy - 2.5} y2={cy + 2.5} stroke="#222" strokeWidth={0.7} />
            {lucRenReps[i].map((v, k) => <circle key={k} cx={x(v)} cy={cy + jitter[i][k]} r={1.8} fill="#111" />)}
            <text x={546.7} y={cy} fontSize={6.3} fontStyle="italic" fill="#333" textAnchor="end" dominantBaseline="central">{n}</text>
          </g>
        )
      })}
      <line x1={554} x2={554} y1={818} y2={866} stroke="#333" strokeWidth={0.7} />
      {lucTicks.map(t => (
        <g key={t}>
          <line x1={x(t)} x2={x(t)} y1={866} y2={868} stroke="#333" strokeWidth={0.5} />
          <text transform={`translate(${x(t) + 1.5},${870.5}) rotate(-45)`} fontSize={5.3} fill={AX} textAnchor="end" dominantBaseline="central">{t.toFixed(1)}</text>
        </g>
      ))}
      <path d="M645.5,825 H648.3 V856.7 H645.5" fill="none" stroke="#333" strokeWidth={0.7} />
      <text x={652} y={841} fontSize={5.3} fill="#333" dominantBaseline="central">P = 8.0e-3</text>
      <text x={607} y={895} fontSize={6} fill="#333" textAnchor="middle">Relative LUC/REN</text>
    </g>
  )
}

export default function App() {
  return (
    <>
      <style>{'body{margin:0;background:#fff}'}</style>
      <svg width={685} height={910} viewBox="0 0 685 910" fontFamily={FONT} style={{ display: 'block' }}>
        <defs>
          <linearGradient id="pinkFade" x1="0" x2="1" y1="0" y2="0">
            <stop offset="0" stopColor="#FFD0D0" stopOpacity={0} />
            <stop offset="0.6" stopColor="#FFCFCF" stopOpacity={1} />
            <stop offset="1" stopColor="#FFC9C9" stopOpacity={1} />
          </linearGradient>
          <linearGradient id="cyanFade" x1="0" x2="1" y1="0" y2="0">
            <stop offset="0" stopColor="#8BE3E3" stopOpacity={0} />
            <stop offset="0.6" stopColor="#8BE3E3" stopOpacity={1} />
            <stop offset="1" stopColor="#7FDEDF" stopOpacity={1} />
          </linearGradient>
        </defs>
        <rect width={685} height={910} fill="#fff" />
        <PanelA />
        <PanelB />
        <PanelC />
        <PanelD />
        <PanelE />
        <PanelF />
        <PanelG />
        <PanelH />
        <PanelI />
        <PanelJ />
        <PanelK />
        <PanelL />
      </svg>
    </>
  )
}
